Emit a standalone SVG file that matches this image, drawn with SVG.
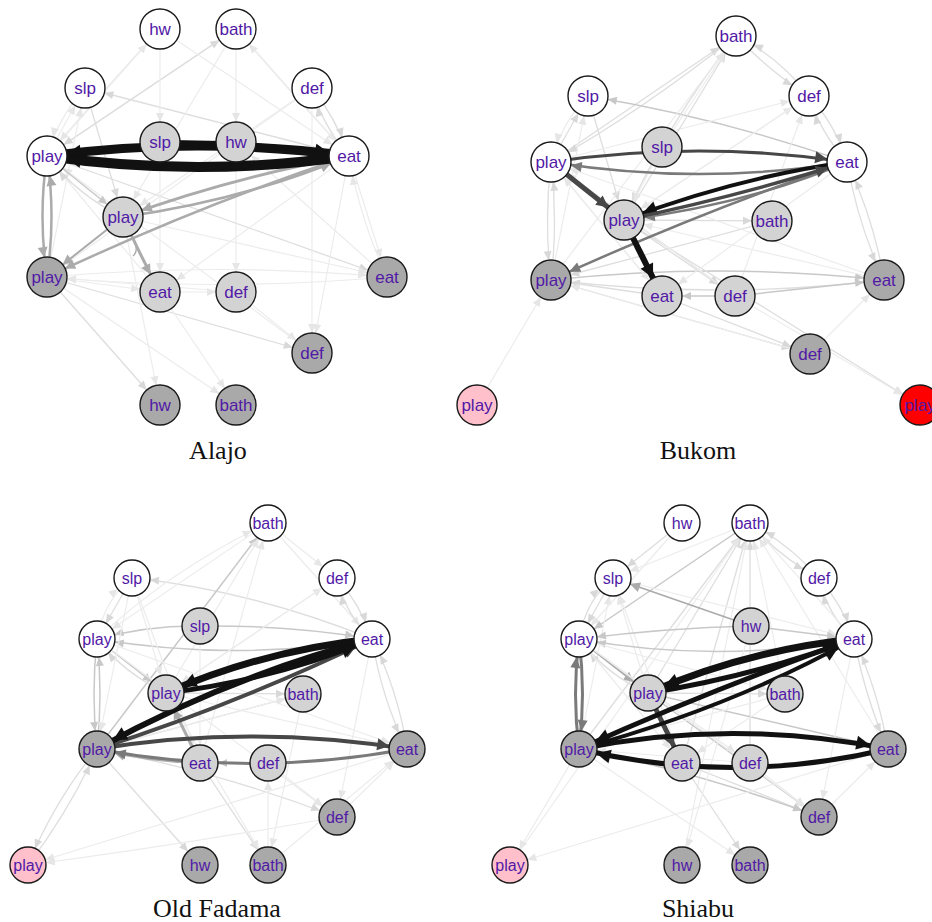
<svg xmlns="http://www.w3.org/2000/svg" width="932" height="922" viewBox="0 0 932 922">
<style>
path{fill:none;stroke-linecap:butt}
.e1{stroke:#ececec;stroke-width:1.2}
.e2{stroke:#dedede;stroke-width:1.3}
.e3{stroke:#c8c8c8;stroke-width:1.5}
.e4{stroke:#ababab;stroke-width:2}
.e5{stroke:#7a7a7a;stroke-width:2.5}
.e6{stroke:#474747;stroke-width:3}
.e7{stroke:#111;stroke-width:5}
.top .e1{marker-end:url(#t1)}.top .e2{marker-end:url(#t2)}.top .e3{marker-end:url(#t3)}.top .e4{marker-end:url(#t4)}.top .e5{marker-end:url(#t5)}.top .e6{marker-end:url(#t6)}.top .e7{marker-end:url(#t7)}
.bot .e1{marker-end:url(#b1)}.bot .e2{marker-end:url(#b2)}.bot .e3{marker-end:url(#b3)}.bot .e4{marker-end:url(#b4)}.bot .e5{marker-end:url(#b5)}.bot .e6{marker-end:url(#b6)}.bot .e7{marker-end:url(#b7)}
.top path.nm{marker-end:none}
circle{stroke:#1a1a1a;stroke-width:1.4}
.w{fill:#fff}.l{fill:#d3d3d3}.d{fill:#a9a9a9}.p{fill:#ffc0cb}.r{fill:#f00}
text.n{font-family:"Liberation Sans",Arial,sans-serif;fill:#5119a6;text-anchor:middle}
.top text.n{font-size:17px}.bot text.n{font-size:16px}
text.t{font-family:"Liberation Serif","Times New Roman",serif;font-size:26px;fill:#111;text-anchor:middle}
</style>
<defs>
<marker id="t1" markerUnits="userSpaceOnUse" viewBox="-4 -8 36 16" markerWidth="36" markerHeight="16" refX="32" refY="0" orient="auto"><path d="M3,-4 L12,0 L3,4 z" style="fill:#e6e6e6;stroke:none"/></marker>
<marker id="t2" markerUnits="userSpaceOnUse" viewBox="-4 -8 36 16" markerWidth="36" markerHeight="16" refX="32" refY="0" orient="auto"><path d="M3,-4 L12,0 L3,4 z" style="fill:#d8d8d8;stroke:none"/></marker>
<marker id="t3" markerUnits="userSpaceOnUse" viewBox="-4 -8 36 16" markerWidth="36" markerHeight="16" refX="32" refY="0" orient="auto"><path d="M3,-4 L12,0 L3,4 z" style="fill:#c8c8c8;stroke:none"/></marker>
<marker id="t4" markerUnits="userSpaceOnUse" viewBox="-4 -8 36 16" markerWidth="36" markerHeight="16" refX="32" refY="0" orient="auto"><path d="M2,-5 L12,0 L2,5 z" style="fill:#ababab;stroke:none"/></marker>
<marker id="t5" markerUnits="userSpaceOnUse" viewBox="-4 -8 36 16" markerWidth="36" markerHeight="16" refX="32" refY="0" orient="auto"><path d="M1,-5 L12,0 L1,5 z" style="fill:#7a7a7a;stroke:none"/></marker>
<marker id="t6" markerUnits="userSpaceOnUse" viewBox="-4 -8 36 16" markerWidth="36" markerHeight="16" refX="32" refY="0" orient="auto"><path d="M0,-6 L12,0 L0,6 z" style="fill:#474747;stroke:none"/></marker>
<marker id="t7" markerUnits="userSpaceOnUse" viewBox="-4 -8 36 16" markerWidth="36" markerHeight="16" refX="32" refY="0" orient="auto"><path d="M-2,-7 L12,0 L-2,7 z" style="fill:#111;stroke:none"/></marker>
<marker id="b1" markerUnits="userSpaceOnUse" viewBox="-4 -8 36 16" markerWidth="36" markerHeight="16" refX="32" refY="0" orient="auto"><path d="M5,-4 L14,0 L5,4 z" style="fill:#e6e6e6;stroke:none"/></marker>
<marker id="b2" markerUnits="userSpaceOnUse" viewBox="-4 -8 36 16" markerWidth="36" markerHeight="16" refX="32" refY="0" orient="auto"><path d="M5,-4 L14,0 L5,4 z" style="fill:#d8d8d8;stroke:none"/></marker>
<marker id="b3" markerUnits="userSpaceOnUse" viewBox="-4 -8 36 16" markerWidth="36" markerHeight="16" refX="32" refY="0" orient="auto"><path d="M5,-4 L14,0 L5,4 z" style="fill:#c8c8c8;stroke:none"/></marker>
<marker id="b4" markerUnits="userSpaceOnUse" viewBox="-4 -8 36 16" markerWidth="36" markerHeight="16" refX="32" refY="0" orient="auto"><path d="M4,-5 L14,0 L4,5 z" style="fill:#ababab;stroke:none"/></marker>
<marker id="b5" markerUnits="userSpaceOnUse" viewBox="-4 -8 36 16" markerWidth="36" markerHeight="16" refX="32" refY="0" orient="auto"><path d="M3,-5 L14,0 L3,5 z" style="fill:#7a7a7a;stroke:none"/></marker>
<marker id="b6" markerUnits="userSpaceOnUse" viewBox="-4 -8 36 16" markerWidth="36" markerHeight="16" refX="32" refY="0" orient="auto"><path d="M2,-6 L14,0 L2,6 z" style="fill:#474747;stroke:none"/></marker>
<marker id="b7" markerUnits="userSpaceOnUse" viewBox="-4 -8 36 16" markerWidth="36" markerHeight="16" refX="32" refY="0" orient="auto"><path d="M0,-7 L14,0 L0,7 z" style="fill:#111;stroke:none"/></marker>
</defs>
<rect width="932" height="922" fill="#fff"/>

<!-- ================= ALAJO ================= -->
<g id="alajo" class="top">
<g id="alajo-edges">
<path class="e1" d="M47,156 L160,29"/>
<path class="e1" d="M160,29 Q95,100 47,156"/>
<path class="e2" d="M47,156 L236,29"/>
<path class="e2" d="M236,29 Q130,100 47,156"/>
<path class="e2" d="M349,156 L85,88"/>
<path class="e2" d="M312,88 Q336,118 349,156"/>
<path class="e2" d="M349,156 Q322,125 312,88"/>
<path class="e1" d="M236,29 L349,156"/>
<path class="e1" d="M349,156 Q280,80 236,29"/>
<path class="e1" d="M160,29 L349,156"/>
<path class="e2" d="M85,88 L123,217"/>
<path class="e1" d="M47,156 L85,88"/>
<path class="e1" d="M85,88 Q58,118 47,156"/>
<path class="e1" d="M236,29 L236,142"/>
<path class="e1" d="M236,142 L236,292"/>
<path class="e1" d="M160,29 L160,142"/>
<path class="e1" d="M236,29 L123,217"/>
<path class="e1" d="M312,88 L123,217"/>
<path class="e1" d="M160,142 L160,292"/>
<path class="e2" d="M47,156 L387,277"/>
<path class="e1" d="M123,217 L387,277"/>
<path class="e1" d="M349,156 L312,353"/>
<path class="e1" d="M312,88 L312,353"/>
<path class="e1" d="M349,156 L387,277"/>
<path class="e1" d="M387,277 Q360,220 349,156"/>
<path class="e2" d="M47,277 L312,353"/>
<path class="e2" d="M47,277 L160,405"/>
<path class="e1" d="M47,277 L236,405"/>
<path class="e1" d="M160,292 L236,405"/>
<path class="e1" d="M123,217 L160,405"/>
<path class="e1" d="M160,292 L236,292"/>
<path class="e1" d="M47,277 L160,292"/>
<path class="e1" d="M47,277 Q217,262 387,277"/>
<path class="e1" d="M387,277 Q217,292 47,277"/>
<path class="e1" d="M236,292 L312,353"/>
<path class="e1" d="M47,277 L85,88"/>
<path class="e1" d="M349,156 L160,292"/>
<path class="e1" d="M236,292 L47,277"/>
<path class="e1" d="M160,292 L47,156"/>
<path class="e1" d="M312,353 L47,156"/>
<path class="e1" d="M387,277 L236,142"/>
<path class="e1" d="M312,88 L47,277"/>
<path class="e3" d="M47,156 L123,217"/>
<path class="e2" d="M123,217 Q78,196 47,156"/>
<path class="e4" style="stroke-width:3" d="M349,156 Q230,178 123,217"/>
<path class="e4" style="stroke-width:2.5" d="M123,217 Q245,200 349,156"/>
<path class="e4" style="stroke-width:2.5" d="M349,156 Q200,205 47,277"/>
<path class="e4" d="M123,217 L47,277"/>
<path class="e4" style="stroke-width:2.5" d="M47,156 Q38,216 47,277"/>
<path class="e4" style="stroke-width:2.5" d="M47,277 Q56,216 47,156"/>
<path class="e4" style="stroke-width:3" d="M123,217 Q140,255 160,292"/>
<path class="e4 nm" style="stroke-width:1.5" d="M132,236 Q140,250 133,256"/>
<path class="e7" style="stroke-width:9" d="M47,156 Q198,136 349,156"/>
<path class="e7" style="stroke-width:10" d="M349,156 Q198,178 47,156"/>
<path class="e7" style="stroke-width:4" d="M160,142 Q260,142 349,156"/>
<path class="e7" style="stroke-width:4" d="M236,142 Q140,144 47,156"/>
</g>
<g id="alajo-nodes">
<g id="A-w-hw"><circle class="w" cx="160" cy="29" r="20"/><text class="n" x="160" y="35">hw</text></g>
<g id="A-w-bath"><circle class="w" cx="236" cy="29" r="20"/><text class="n" x="236" y="35">bath</text></g>
<g id="A-w-slp"><circle class="w" cx="85" cy="88" r="20"/><text class="n" x="85" y="94">slp</text></g>
<g id="A-w-def"><circle class="w" cx="312" cy="88" r="20"/><text class="n" x="312" y="94">def</text></g>
<g id="A-w-play"><circle class="w" cx="47" cy="156" r="20"/><text class="n" x="47" y="162">play</text></g>
<g id="A-w-eat"><circle class="w" cx="349" cy="156" r="20"/><text class="n" x="349" y="162">eat</text></g>
<g id="A-l-slp"><circle class="l" cx="160" cy="142" r="20"/><text class="n" x="160" y="148">slp</text></g>
<g id="A-l-hw"><circle class="l" cx="236" cy="142" r="20"/><text class="n" x="236" y="148">hw</text></g>
<g id="A-l-play"><circle class="l" cx="123" cy="217" r="20"/><text class="n" x="123" y="223">play</text></g>
<g id="A-l-eat"><circle class="l" cx="160" cy="292" r="20"/><text class="n" x="160" y="298">eat</text></g>
<g id="A-l-def"><circle class="l" cx="236" cy="292" r="20"/><text class="n" x="236" y="298">def</text></g>
<g id="A-d-play"><circle class="d" cx="47" cy="277" r="20"/><text class="n" x="47" y="283">play</text></g>
<g id="A-d-eat"><circle class="d" cx="387" cy="277" r="20"/><text class="n" x="387" y="283">eat</text></g>
<g id="A-d-def"><circle class="d" cx="312" cy="353" r="20"/><text class="n" x="312" y="359">def</text></g>
<g id="A-d-hw"><circle class="d" cx="160" cy="405" r="20"/><text class="n" x="160" y="411">hw</text></g>
<g id="A-d-bath"><circle class="d" cx="236" cy="405" r="20"/><text class="n" x="236" y="411">bath</text></g>
</g>
<text class="t" x="218" y="459">Alajo</text>
</g>

<!-- ================= BUKOM ================= -->
<g id="bukom" class="top">
<g id="bukom-edges">
<path class="e2" d="M551,162 L736,36"/>
<path class="e2" d="M736,36 Q640,112 551,162"/>
<path class="e2" d="M588,96 L624,220"/>
<path class="e2" d="M551,162 L588,96"/>
<path class="e1" d="M588,96 Q562,122 551,162"/>
<path class="e3" d="M847,162 Q720,118 588,96"/>
<path class="e1" d="M551,162 L809,96"/>
<path class="e2" d="M624,220 L736,36"/>
<path class="e2" d="M736,36 Q668,122 624,220"/>
<path class="e1" d="M662,147 L736,36"/>
<path class="e2" d="M809,96 Q778,56 736,36"/>
<path class="e2" d="M736,36 Q770,72 809,96"/>
<path class="e2" d="M809,96 Q835,124 847,162"/>
<path class="e2" d="M847,162 Q820,132 809,96"/>
<path class="e2" d="M847,162 Q858,225 884,280"/>
<path class="e2" d="M884,280 Q874,220 847,162"/>
<path class="e1" d="M624,220 L809,96"/>
<path class="e1" d="M735,296 L809,96"/>
<path class="e1" d="M809,96 L624,220"/>
<path class="e2" d="M551,162 Q544,221 551,280"/>
<path class="e2" d="M551,280 Q558,221 551,162"/>
<path class="e3" d="M551,280 Q718,262 884,280"/>
<path class="e2" d="M884,280 Q718,300 551,280"/>
<path class="e3" d="M735,296 L662,296"/>
<path class="e3" d="M735,296 L884,280"/>
<path class="e2" d="M551,280 L810,354"/>
<path class="e2" d="M662,296 L810,354"/>
<path class="e2" d="M624,220 L920,405"/>
<path class="e1" d="M477,405 L551,280"/>
<path class="e1" d="M810,354 L884,280"/>
<path class="e2" d="M624,220 L772,221"/>
<path class="e2" d="M624,220 L735,296"/>
<path class="e2" d="M772,221 L551,280"/>
<path class="e2" d="M662,296 L551,280"/>
<path class="e1" d="M551,162 L662,296"/>
<path class="e2" d="M551,162 L735,296"/>
<path class="e1" d="M847,162 L662,296"/>
<path class="e1" d="M662,147 L624,220"/>
<path class="e1" d="M551,280 L588,96"/>
<path class="e1" d="M735,296 L551,162"/>
<path class="e1" d="M884,280 L551,162"/>
<path class="e1" d="M662,296 L551,162"/>
<path class="e1" d="M551,280 L736,36"/>
<path class="e1" d="M884,280 L624,220"/>
<path class="e1" d="M810,354 L551,280"/>
<path class="e1" d="M735,296 L920,405"/>
<path class="e6" d="M551,162 Q699,140 847,162"/>
<path class="e5" d="M847,162 Q699,186 551,162"/>
<path class="e5" d="M847,162 Q745,205 624,220"/>
<path class="e5" d="M847,162 Q700,212 551,280"/>
<path class="e6" style="stroke-width:5" d="M551,162 L624,220"/>
<path class="e7" style="stroke-width:4" d="M847,162 Q735,178 624,220"/>
<path class="e6" style="stroke-width:3.5" d="M624,220 Q740,196 847,162"/>
<path class="e7" style="stroke-width:6" d="M624,220 L662,296"/>
</g>
<g id="bukom-nodes">
<g id="B-w-bath"><circle class="w" cx="736" cy="36" r="20"/><text class="n" x="736" y="42">bath</text></g>
<g id="B-w-slp"><circle class="w" cx="588" cy="96" r="20"/><text class="n" x="588" y="102">slp</text></g>
<g id="B-w-def"><circle class="w" cx="809" cy="96" r="20"/><text class="n" x="809" y="102">def</text></g>
<g id="B-w-play"><circle class="w" cx="551" cy="162" r="20"/><text class="n" x="551" y="168">play</text></g>
<g id="B-w-eat"><circle class="w" cx="847" cy="162" r="20"/><text class="n" x="847" y="168">eat</text></g>
<g id="B-l-slp"><circle class="l" cx="662" cy="147" r="20"/><text class="n" x="662" y="153">slp</text></g>
<g id="B-l-play"><circle class="l" cx="624" cy="220" r="20"/><text class="n" x="624" y="226">play</text></g>
<g id="B-l-bath"><circle class="l" cx="772" cy="221" r="20"/><text class="n" x="772" y="227">bath</text></g>
<g id="B-l-eat"><circle class="l" cx="662" cy="296" r="20"/><text class="n" x="662" y="302">eat</text></g>
<g id="B-l-def"><circle class="l" cx="735" cy="296" r="20"/><text class="n" x="735" y="302">def</text></g>
<g id="B-d-play"><circle class="d" cx="551" cy="280" r="20"/><text class="n" x="551" y="286">play</text></g>
<g id="B-d-eat"><circle class="d" cx="884" cy="280" r="20"/><text class="n" x="884" y="286">eat</text></g>
<g id="B-d-def"><circle class="d" cx="810" cy="354" r="20"/><text class="n" x="810" y="360">def</text></g>
<g id="B-p-play"><circle class="p" cx="477" cy="405" r="20"/><text class="n" x="477" y="411">play</text></g>
<g id="B-r-play"><circle class="r" cx="920" cy="405" r="20"/><text class="n" x="920" y="411">play</text></g>
</g>
<text class="t" x="698" y="459">Bukom</text>
</g>

<!-- ================= OLD FADAMA ================= -->
<g id="oldfadama" class="bot">
<g id="oldfadama-edges">
<path class="e2" d="M372,639 Q250,590 132,578"/>
<path class="e2" d="M132,578 L97,639"/>
<path class="e1" d="M97,639 Q104,600 132,578"/>
<path class="e1" d="M268,523 L97,639"/>
<path class="e1" d="M97,639 Q170,570 268,523"/>
<path class="e3" d="M97,749 L268,523"/>
<path class="e1" d="M268,523 L372,639"/>
<path class="e2" d="M337,578 Q360,604 372,639"/>
<path class="e2" d="M372,639 Q346,616 337,578"/>
<path class="e1" d="M268,523 L337,578"/>
<path class="e1" d="M166,693 L337,578"/>
<path class="e1" d="M200,763 L268,523"/>
<path class="e1" d="M166,693 L268,523"/>
<path class="e3" d="M200,626 Q150,625 97,639"/>
<path class="e3" d="M372,639 Q235,662 97,639"/>
<path class="e3" d="M200,626 Q290,625 372,639"/>
<path class="e3" d="M97,639 Q91,694 97,749"/>
<path class="e3" d="M97,749 Q103,694 97,639"/>
<path class="e3" d="M97,639 L166,693"/>
<path class="e2" d="M166,693 Q125,674 97,639"/>
<path class="e1" d="M132,578 L166,693"/>
<path class="e1" d="M132,578 L200,763"/>
<path class="e2" d="M166,693 L303,694"/>
<path class="e2" d="M372,639 Q382,700 407,749"/>
<path class="e2" d="M407,749 Q398,690 372,639"/>
<path class="e2" d="M97,749 Q220,772 337,817"/>
<path class="e2" d="M97,749 L200,865"/>
<path class="e2" d="M200,763 L268,865"/>
<path class="e1" d="M268,865 L268,763"/>
<path class="e2" d="M97,749 Q55,800 28,865"/>
<path class="e2" d="M28,865 Q70,810 97,749"/>
<path class="e1" d="M407,749 L28,865"/>
<path class="e1" d="M337,817 Q180,845 28,865"/>
<path class="e1" d="M337,817 L407,749"/>
<path class="e1" d="M268,865 L407,749"/>
<path class="e1" d="M268,763 L337,817"/>
<path class="e1" d="M372,639 L337,817"/>
<path class="e2" d="M303,694 L97,749"/>
<path class="e3" d="M268,763 L200,763"/>
<path class="e1" d="M97,639 L407,749"/>
<path class="e1" d="M166,693 L407,749"/>
<path class="e1" d="M97,639 L337,817"/>
<path class="e1" d="M166,693 L268,865"/>
<path class="e1" d="M97,749 L303,694"/>
<path class="e1" d="M303,694 L268,865"/>
<path class="e1" d="M200,626 L200,763"/>
<path class="e1" d="M337,578 L166,693"/>
<path class="e1" d="M132,578 L97,749"/>
<path class="e4" style="stroke-width:3" d="M200,763 L166,693"/>
<path class="e4" d="M200,763 Q150,762 97,749"/>
<path class="e5" style="stroke-width:3" d="M407,749 Q250,778 97,749"/>
<path class="e6" style="stroke-width:4" d="M97,749 Q250,724 407,749"/>
<path class="e6" style="stroke-width:4" d="M97,749 Q235,705 372,639"/>
<path class="e7" style="stroke-width:6" d="M372,639 Q225,678 97,749"/>
<path class="e7" style="stroke-width:5" d="M166,693 Q275,680 372,639"/>
<path class="e7" style="stroke-width:7" d="M372,639 Q265,650 166,693"/>
</g>
<g id="oldfadama-nodes">
<g id="O-w-bath"><circle class="w" cx="268" cy="523" r="18"/><text class="n" x="268" y="528.5">bath</text></g>
<g id="O-w-slp"><circle class="w" cx="132" cy="578" r="18"/><text class="n" x="132" y="583.5">slp</text></g>
<g id="O-w-def"><circle class="w" cx="337" cy="578" r="18"/><text class="n" x="337" y="583.5">def</text></g>
<g id="O-l-slp"><circle class="l" cx="200" cy="626" r="18"/><text class="n" x="200" y="631.5">slp</text></g>
<g id="O-w-play"><circle class="w" cx="97" cy="639" r="18"/><text class="n" x="97" y="644.5">play</text></g>
<g id="O-w-eat"><circle class="w" cx="372" cy="639" r="18"/><text class="n" x="372" y="644.5">eat</text></g>
<g id="O-l-play"><circle class="l" cx="166" cy="693" r="18"/><text class="n" x="166" y="698.5">play</text></g>
<g id="O-l-bath"><circle class="l" cx="303" cy="694" r="18"/><text class="n" x="303" y="699.5">bath</text></g>
<g id="O-d-play"><circle class="d" cx="97" cy="749" r="18"/><text class="n" x="97" y="754.5">play</text></g>
<g id="O-l-eat"><circle class="l" cx="200" cy="763" r="18"/><text class="n" x="200" y="768.5">eat</text></g>
<g id="O-l-def"><circle class="l" cx="268" cy="763" r="18"/><text class="n" x="268" y="768.5">def</text></g>
<g id="O-d-eat"><circle class="d" cx="407" cy="749" r="18"/><text class="n" x="407" y="754.5">eat</text></g>
<g id="O-d-def"><circle class="d" cx="337" cy="817" r="18"/><text class="n" x="337" y="822.5">def</text></g>
<g id="O-p-play"><circle class="p" cx="28" cy="865" r="18"/><text class="n" x="28" y="870.5">play</text></g>
<g id="O-d-hw"><circle class="d" cx="200" cy="865" r="18"/><text class="n" x="200" y="870.5">hw</text></g>
<g id="O-d-bath"><circle class="d" cx="268" cy="865" r="18"/><text class="n" x="268" y="870.5">bath</text></g>
</g>
<text class="t" x="217" y="917">Old Fadama</text>
</g>

<!-- ================= SHIABU ================= -->
<g id="shiabu" class="bot">
<g id="shiabu-edges">
<path class="e2" d="M682,523 L613,578"/>
<path class="e1" d="M750,523 L613,578"/>
<path class="e3" d="M750,523 L579,639"/>
<path class="e2" d="M579,749 L750,523"/>
<path class="e2" d="M648,693 L750,523"/>
<path class="e2" d="M682,763 L750,523"/>
<path class="e2" d="M750,763 L750,523"/>
<path class="e1" d="M785,694 L750,523"/>
<path class="e1" d="M888,749 L750,523"/>
<path class="e1" d="M682,865 L750,523"/>
<path class="e1" d="M510,865 L750,523"/>
<path class="e2" d="M819,578 Q790,545 750,523"/>
<path class="e2" d="M750,523 Q778,556 819,578"/>
<path class="e2" d="M819,578 Q842,604 854,639"/>
<path class="e2" d="M854,639 Q828,616 819,578"/>
<path class="e1" d="M854,639 L750,523"/>
<path class="e2" d="M613,578 L579,639"/>
<path class="e2" d="M579,639 Q586,600 613,578"/>
<path class="e1" d="M648,693 L613,578"/>
<path class="e1" d="M579,749 L613,578"/>
<path class="e1" d="M682,763 L613,578"/>
<path class="e1" d="M613,578 L854,639"/>
<path class="e1" d="M682,523 L579,639"/>
<path class="e4" style="stroke-width:1.6" d="M751,626 L613,578"/>
<path class="e3" d="M751,626 Q665,628 579,639"/>
<path class="e3" d="M751,626 L854,639"/>
<path class="e3" d="M854,639 Q716,664 579,639"/>
<path class="e4" d="M579,639 L648,693"/>
<path class="e2" d="M648,693 Q608,676 579,639"/>
<path class="e1" d="M579,639 L785,694"/>
<path class="e2" d="M648,693 L785,694"/>
<path class="e3" d="M648,693 L819,817"/>
<path class="e2" d="M682,763 L819,817"/>
<path class="e3" d="M579,749 Q700,772 819,817"/>
<path class="e1" d="M750,763 L819,817"/>
<path class="e2" d="M682,763 L750,865"/>
<path class="e1" d="M579,749 L750,865"/>
<path class="e1" d="M751,626 L682,865"/>
<path class="e1" d="M888,749 L510,865"/>
<path class="e1" d="M579,749 L510,865"/>
<path class="e1" d="M819,817 L888,749"/>
<path class="e2" d="M854,639 Q866,700 888,749"/>
<path class="e2" d="M888,749 Q878,690 854,639"/>
<path class="e3" d="M648,693 L888,749"/>
<path class="e1" d="M785,694 L579,749"/>
<path class="e1" d="M579,639 L819,817"/>
<path class="e1" d="M854,639 L819,817"/>
<path class="e1" d="M750,763 L579,749"/>
<path class="e1" d="M785,694 L682,763"/>
<path class="e1" d="M579,639 L682,763"/>
<path class="e1" d="M579,639 L750,763"/>
<path class="e5" style="stroke-width:3" d="M579,749 Q572,694 579,639"/>
<path class="e5" style="stroke-width:3" d="M579,639 Q586,694 579,749"/>
<path class="e6" style="stroke-width:5" d="M648,693 L682,763"/>
<path class="e4" d="M682,763 Q630,762 579,749"/>
<path class="e7" style="stroke-width:5" d="M579,749 Q733,718 888,749"/>
<path class="e7" style="stroke-width:5" d="M888,749 Q733,786 579,749"/>
<path class="e7" style="stroke-width:4" d="M579,749 Q730,708 854,639"/>
<path class="e7" style="stroke-width:5" d="M854,639 Q710,690 579,749"/>
<path class="e7" style="stroke-width:5" d="M648,693 Q755,676 854,639"/>
<path class="e7" style="stroke-width:7" d="M854,639 Q748,650 648,693"/>
</g>
<g id="shiabu-nodes">
<g id="S-w-hw"><circle class="w" cx="682" cy="523" r="18"/><text class="n" x="682" y="528.5">hw</text></g>
<g id="S-w-bath"><circle class="w" cx="750" cy="523" r="18"/><text class="n" x="750" y="528.5">bath</text></g>
<g id="S-w-slp"><circle class="w" cx="613" cy="578" r="18"/><text class="n" x="613" y="583.5">slp</text></g>
<g id="S-w-def"><circle class="w" cx="819" cy="578" r="18"/><text class="n" x="819" y="583.5">def</text></g>
<g id="S-l-hw"><circle class="l" cx="751" cy="626" r="18"/><text class="n" x="751" y="631.5">hw</text></g>
<g id="S-w-play"><circle class="w" cx="579" cy="639" r="18"/><text class="n" x="579" y="644.5">play</text></g>
<g id="S-w-eat"><circle class="w" cx="854" cy="639" r="18"/><text class="n" x="854" y="644.5">eat</text></g>
<g id="S-l-play"><circle class="l" cx="648" cy="693" r="18"/><text class="n" x="648" y="698.5">play</text></g>
<g id="S-l-bath"><circle class="l" cx="785" cy="694" r="18"/><text class="n" x="785" y="699.5">bath</text></g>
<g id="S-d-play"><circle class="d" cx="579" cy="749" r="18"/><text class="n" x="579" y="754.5">play</text></g>
<g id="S-l-eat"><circle class="l" cx="682" cy="763" r="18"/><text class="n" x="682" y="768.5">eat</text></g>
<g id="S-l-def"><circle class="l" cx="750" cy="763" r="18"/><text class="n" x="750" y="768.5">def</text></g>
<g id="S-d-eat"><circle class="d" cx="888" cy="749" r="18"/><text class="n" x="888" y="754.5">eat</text></g>
<g id="S-d-def"><circle class="d" cx="819" cy="817" r="18"/><text class="n" x="819" y="822.5">def</text></g>
<g id="S-p-play"><circle class="p" cx="510" cy="865" r="18"/><text class="n" x="510" y="870.5">play</text></g>
<g id="S-d-hw"><circle class="d" cx="682" cy="865" r="18"/><text class="n" x="682" y="870.5">hw</text></g>
<g id="S-d-bath"><circle class="d" cx="750" cy="865" r="18"/><text class="n" x="750" y="870.5">bath</text></g>
</g>
<text class="t" x="698" y="917">Shiabu</text>
</g>
</svg>
